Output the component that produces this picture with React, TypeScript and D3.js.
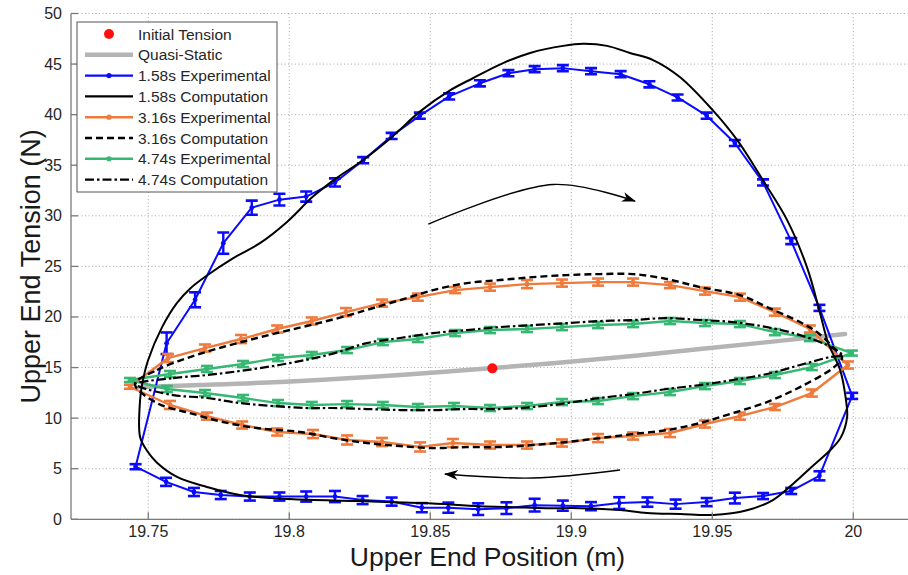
import React from 'react';
import * as d3 from 'd3';

const W = 908;
const H = 575;
const PLOT = { left: 71, right: 908, top: 13.5, bottom: 519.3 };
const xDomain = [19.7226, 20.0194];
const yDomain = [0, 50];

const xTicks = [19.75, 19.8, 19.85, 19.9, 19.95, 20];
const xTickLabels = ['19.75', '19.8', '19.85', '19.9', '19.95', '20'];
const yTicks = [0, 5, 10, 15, 20, 25, 30, 35, 40, 45, 50];

const xTitle = 'Upper End Position (m)';
const yTitle = 'Upper End Tension (N)';

// Quasi-static
const qsX = [19.7471, 19.7683, 19.8038, 19.8393, 19.8722, 19.9102, 19.9457, 19.9971];
const qsY = [13.07, 13.27, 13.67, 14.26, 14.95, 15.84, 16.83, 18.31];

// Initial tension
const initX = [19.872];
const initY = [14.92];

// 1.58s experimental
const exp158X = [19.7455, 19.7565, 19.7666, 19.7766, 19.7867, 19.7965, 19.806, 19.8162, 19.8262, 19.8363,
  19.8463, 19.8567, 19.8676, 19.8777, 19.887, 19.897, 19.907, 19.9175, 19.9277, 19.9377,
  19.948, 19.958, 19.968, 19.978, 19.988, 19.9996,
  19.988, 19.978, 19.968, 19.958, 19.948, 19.937, 19.927, 19.917, 19.907, 19.897,
  19.887, 19.877, 19.867, 19.8564, 19.847, 19.8363, 19.826, 19.8162, 19.806, 19.7965,
  19.786, 19.7757, 19.7662, 19.7563];
const exp158Y = [5.2, 17.4, 21.7, 27.3, 30.8, 31.6, 31.9, 33.3, 35.5, 37.9,
  39.9, 41.8, 43.1, 44.1, 44.5, 44.6, 44.3, 44.0, 43.0, 41.7,
  39.9, 37.2, 33.3, 27.5, 20.9, 12.2,
  4.3, 2.8, 2.3, 2.1, 1.7, 1.5, 1.7, 1.6, 1.3, 1.35,
  1.4, 1.1, 1.0, 1.15, 1.15, 1.75, 1.9, 2.25, 2.25, 2.25,
  2.25, 2.4, 2.7, 3.7];
const exp158E = [0.25, 1.07, 0.74, 1.05, 0.7, 0.58, 0.5, 0.4, 0.3, 0.3,
  0.3, 0.3, 0.3, 0.3, 0.3, 0.3, 0.3, 0.3, 0.3, 0.3,
  0.3, 0.3, 0.3, 0.3, 0.3, 0.3,
  0.45, 0.3, 0.3, 0.53, 0.4, 0.45, 0.46, 0.58, 0.4, 0.5,
  0.63, 0.58, 0.58, 0.5, 0.45, 0.4, 0.4, 0.55, 0.5, 0.4,
  0.4, 0.4, 0.4, 0.4];

// 1.58s computation
const comp158X = [19.7471, 19.7471, 19.7478, 19.7499, 19.7549, 19.7602, 19.7648, 19.7708, 19.78, 19.7896,
  19.7992, 19.8084, 19.8166, 19.8261, 19.8364, 19.8463, 19.857, 19.8651, 19.8758, 19.8854,
  19.8971, 19.9042, 19.9127, 19.9208, 19.929, 19.9386, 19.9503, 19.9588, 19.968, 19.9765,
  19.9836, 19.9882, 19.9911, 19.9953, 19.9974, 19.9978, 19.9956, 19.9917, 19.9857, 19.9786,
  19.9715, 19.9623, 19.9503, 19.9386, 19.9268, 19.9173, 19.9031, 19.8914, 19.8793, 19.8676,
  19.8474, 19.824, 19.8002, 19.7825, 19.7708, 19.7602, 19.7531, 19.7495];
const comp158Y = [8.13, 11.8, 13.3, 15.7, 19.0, 21.4, 22.8, 24.1, 25.8, 27.3,
  29.4, 31.9, 33.7, 35.5, 37.8, 40.3, 42.4, 43.6, 45.1, 46.1,
  46.8, 47.0, 46.8, 46.1, 45.4, 43.7, 40.4, 37.5, 33.5, 29.6,
  24.9, 20.4, 17.4, 14.8, 11.8, 10.1, 8.1, 6.8, 5.3, 3.5,
  1.9, 0.9, 0.43, 0.52, 0.62, 0.92, 1.1, 1.1, 1.2, 1.3,
  1.6, 1.8, 2.0, 2.4, 3.2, 4.2, 5.6, 6.8];

// 3.16s experimental
const exp316X = [19.7435, 19.757, 19.7701, 19.7829, 19.7957, 19.808, 19.8201, 19.8329, 19.8456, 19.8588,
  19.8712, 19.8843, 19.8967, 19.9095, 19.9219, 19.935, 19.9474, 19.9598, 19.9722, 19.9846, 19.9981,
  19.9853, 19.9722, 19.9598, 19.9474, 19.935, 19.9219, 19.9095, 19.8967, 19.8843, 19.8712,
  19.858, 19.8464, 19.8329, 19.8205, 19.8084, 19.7957, 19.7833, 19.7708, 19.7577];
const exp316Y = [13.1, 15.94, 16.93, 17.82, 18.81, 19.6, 20.48, 21.37, 21.96, 22.66,
  22.95, 23.25, 23.35, 23.45, 23.45, 23.15, 22.56, 21.96, 20.48, 18.81, 15.25,
  12.48, 11.1, 10.2, 9.42, 8.53, 8.23, 8.03, 7.54, 7.34, 7.34,
  7.54, 7.15, 7.64, 7.84, 8.43, 8.63, 9.32, 10.2, 11.3];
const exp316E = [0.2, 0.4, 0.35, 0.4, 0.35, 0.35, 0.4, 0.35, 0.35, 0.3,
  0.35, 0.4, 0.35, 0.35, 0.35, 0.3, 0.35, 0.35, 0.35, 0.35, 0.35,
  0.35, 0.3, 0.35, 0.35, 0.4, 0.35, 0.4, 0.35, 0.35, 0.35,
  0.4, 0.45, 0.4, 0.45, 0.4, 0.35, 0.35, 0.35, 0.4];

// 3.16s computation
const comp316X = [19.7453, 19.7531, 19.7648, 19.7765, 19.7885, 19.8002, 19.8119, 19.8215, 19.8275, 19.8393,
  19.851, 19.863, 19.8747, 19.8864, 19.8985, 19.9102, 19.9219, 19.9339, 19.9456, 19.9598,
  19.9694, 19.9811, 19.9871, 19.9928, 19.996,
  19.9928, 19.9811, 19.9694, 19.9573, 19.9456, 19.9339, 19.9219, 19.9102, 19.8985, 19.8864,
  19.8747, 19.863, 19.851, 19.8393, 19.8275, 19.8155, 19.8038, 19.7885, 19.7765, 19.7648, 19.7531];
const comp316Y = [13.37, 14.76, 16.04, 17.03, 17.92, 18.71, 19.5, 20.2, 20.7, 21.67,
  22.66, 23.35, 23.65, 23.94, 24.14, 24.24, 24.24, 23.75, 22.95, 22.16,
  20.98, 19.5, 18.51, 17.03, 15.94,
  14.96, 13.07, 11.59, 10.5, 9.51, 8.82, 8.43, 8.03, 7.64, 7.34,
  7.14, 7.14, 7.04, 7.24, 7.54, 8.03, 8.63, 9.02, 9.62, 10.5, 11.49];

// 4.74s experimental
const exp474X = [19.7435, 19.7577, 19.7708, 19.7836, 19.796, 19.808, 19.8205, 19.8332, 19.8456, 19.8588,
  19.8712, 19.8843, 19.8967, 19.9095, 19.9219, 19.935, 19.9474, 19.9598, 19.9722, 19.9846, 19.9995,
  19.9853, 19.9722, 19.9598, 19.9474, 19.935, 19.9219, 19.9095, 19.8967, 19.8843, 19.8712,
  19.8584, 19.8456, 19.8332, 19.8205, 19.808, 19.796, 19.7836, 19.7701, 19.7566];
const exp474Y = [13.77, 14.36, 14.86, 15.35, 15.94, 16.24, 16.73, 17.52, 17.82, 18.41,
  18.71, 18.81, 19.0, 19.2, 19.3, 19.6, 19.4, 19.3, 18.5, 17.92, 16.43,
  15.05, 14.26, 13.67, 13.17, 12.58, 12.18, 11.69, 11.59, 11.2, 11.0,
  11.2, 11.1, 11.3, 11.39, 11.3, 11.49, 11.99, 12.48, 12.88];
const exp474E = [0.2, 0.3, 0.3, 0.3, 0.3, 0.3, 0.3, 0.3, 0.3, 0.3,
  0.3, 0.3, 0.3, 0.3, 0.3, 0.3, 0.3, 0.3, 0.3, 0.3, 0.25,
  0.3, 0.3, 0.3, 0.3, 0.3, 0.3, 0.3, 0.3, 0.3, 0.3,
  0.3, 0.3, 0.3, 0.3, 0.3, 0.3, 0.3, 0.3, 0.3];

// 4.74s computation
const comp474X = [19.7453, 19.7588, 19.7708, 19.7825, 19.7942, 19.8056, 19.8162, 19.8275, 19.8393, 19.851,
  19.863, 19.8747, 19.8864, 19.8985, 19.9102, 19.9219, 19.9339, 19.9456, 19.9573, 19.9694,
  19.9811, 19.9906, 19.996,
  19.9917, 19.9811, 19.9694, 19.9573, 19.9456, 19.9339, 19.9219, 19.9102, 19.8985, 19.8864,
  19.8747, 19.863, 19.851, 19.8393, 19.8275, 19.8155, 19.8063, 19.7942, 19.7825, 19.7708, 19.7588, 19.7471];
const comp474Y = [13.37, 13.96, 14.26, 14.66, 15.15, 15.74, 16.43, 17.42, 17.92, 18.41,
  18.71, 19.0, 19.2, 19.4, 19.6, 19.7, 19.89, 19.7, 19.5, 19.0,
  18.21, 17.22, 16.24,
  16.04, 15.25, 14.36, 13.77, 13.27, 12.88, 12.38, 11.99, 11.49, 11.1,
  10.9, 10.9, 10.8, 10.8, 10.9, 11.0, 11.0, 11.2, 11.49, 11.99, 12.28, 13.07];

// direction arrows (data coords)
const arrowUpperX = [19.8493, 19.8935, 19.9226];
const arrowUpperY = [29.18, 33.1, 31.45];
const arrowLowerX = [19.9173, 19.8864, 19.8552];
const arrowLowerY = [4.87, 4.08, 4.48];

const legendLabels = ['Initial Tension', 'Quasi-Static', '1.58s Experimental', '1.58s Computation',
  '3.16s Experimental', '3.16s Computation', '4.74s Experimental', '4.74s Computation'];

const BLUE = '#0a0aff';
const ORANGE = '#ef7a3b';
const GREEN = '#36b872';
const GREY = '#b4b4b4';
const RED = '#ff1010';
const FONT = 'Arial, "Liberation Sans", Helvetica, sans-serif';

const zip = (xs: number[], ys: number[]) => xs.map((x, i) => [x, ys[i]] as [number, number]);

export default function App() {
  const x = d3.scaleLinear().domain(xDomain).range([PLOT.left, PLOT.right]);
  const y = d3.scaleLinear().domain(yDomain).range([PLOT.bottom, PLOT.top]);

  const linClosed = d3.line<[number, number]>().x(d => x(d[0])).y(d => y(d[1])).curve(d3.curveLinearClosed);
  const smoothClosed = d3.line<[number, number]>().x(d => x(d[0])).y(d => y(d[1])).curve(d3.curveCatmullRomClosed.alpha(0.5));
  const smoothOpen = d3.line<[number, number]>().x(d => x(d[0])).y(d => y(d[1])).curve(d3.curveCatmullRom.alpha(0.5));

  const expSeries = [
    { xs: exp158X, ys: exp158Y, es: exp158E, color: BLUE, w: 2 },
    { xs: exp316X, ys: exp316Y, es: exp316E, color: ORANGE, w: 2.4 },
    { xs: exp474X, ys: exp474Y, es: exp474E, color: GREEN, w: 2.4 },
  ];

  const errBars = (s: typeof expSeries[number], key: string) => (
    <g key={key} stroke={s.color} fill={s.color}>
      {s.xs.map((xv, i) => {
        const px = x(xv);
        const y1 = y(s.ys[i] - s.es[i]);
        const y2 = y(s.ys[i] + s.es[i]);
        return (
          <g key={i}>
            <line x1={px} x2={px} y1={y1} y2={y2} strokeWidth={2.4} />
            <line x1={px - 6} x2={px + 6} y1={y1} y2={y1} strokeWidth={2.6} />
            <line x1={px - 6} x2={px + 6} y1={y2} y2={y2} strokeWidth={2.6} />
            <circle cx={px} cy={y(s.ys[i])} r={2.4} stroke="none" />
          </g>
        );
      })}
    </g>
  );

  const legendX = 77, legendY = 22, legendW = 200, legendH = 170;
  const rowH = 20.8;
  const sampleX1 = 85, sampleX2 = 133, textX = 138;

  return (
    <svg width={W} height={H} style={{ position: 'absolute', left: 0, top: 0, background: '#fff' }}
      xmlns="http://www.w3.org/2000/svg">
      <defs>
        <clipPath id="plotclip">
          <rect x={PLOT.left} y={PLOT.top - 2} width={PLOT.right - PLOT.left} height={PLOT.bottom - PLOT.top + 2} />
        </clipPath>
        <marker id="arrowhead" viewBox="-14 -7 16 14" markerWidth={16} markerHeight={14}
          refX={0} refY={0} orient="auto" markerUnits="userSpaceOnUse">
          <path d="M1,0 L-13,-5 L-9,0 L-13,5 Z" fill="#000" />
        </marker>
      </defs>
      <rect x={0} y={0} width={W} height={H} fill="#fff" />

      {/* grid */}
      <g stroke="#a8a8a8" strokeWidth={1} strokeDasharray="1,2.5">
        {xTicks.map(t => (
          <line key={'gx' + t} x1={x(t)} x2={x(t)} y1={PLOT.top} y2={PLOT.bottom} />
        ))}
        {yTicks.map(t => (
          <line key={'gy' + t} x1={PLOT.left} x2={PLOT.right} y1={y(t)} y2={y(t)} />
        ))}
      </g>

      <g clipPath="url(#plotclip)">
        {/* quasi-static */}
        <path d={smoothOpen(zip(qsX, qsY)) || ''} fill="none" stroke={GREY} strokeWidth={4.5} strokeLinecap="round" />

        {/* experimental lines */}
        {expSeries.map((s, i) => (
          <path key={'el' + i} d={linClosed(zip(s.xs, s.ys)) || ''} fill="none" stroke={s.color} strokeWidth={s.w} strokeLinejoin="round" />
        ))}
        {expSeries.map((s, i) => errBars(s, 'eb' + i))}

        {/* computations */}
        <path d={smoothClosed(zip(comp158X, comp158Y)) || ''} fill="none" stroke="#000" strokeWidth={2} strokeLinejoin="round" />
        <path d={smoothClosed(zip(comp316X, comp316Y)) || ''} fill="none" stroke="#000" strokeWidth={2.4} strokeDasharray="7,4" />
        <path d={smoothClosed(zip(comp474X, comp474Y)) || ''} fill="none" stroke="#000" strokeWidth={2.2} strokeDasharray="9,3,2.5,3" />

        {/* initial tension */}
        {initX.map((xv, i) => (
          <circle key={'it' + i} cx={x(xv)} cy={y(initY[i])} r={5} fill={RED} />
        ))}

        {/* arrows */}
        <path d={smoothOpen(zip(arrowUpperX, arrowUpperY)) || ''} fill="none" stroke="#000" strokeWidth={1.4} markerEnd="url(#arrowhead)" />
        <path d={smoothOpen(zip(arrowLowerX, arrowLowerY)) || ''} fill="none" stroke="#000" strokeWidth={1.4} markerEnd="url(#arrowhead)" />
      </g>

      {/* axes */}
      <g stroke="#7a7a7a" strokeWidth={1.3}>
        <line x1={PLOT.left} x2={PLOT.left} y1={PLOT.top} y2={PLOT.bottom} />
        <line x1={PLOT.left} x2={PLOT.right} y1={PLOT.bottom} y2={PLOT.bottom} />
        {xTicks.map(t => (
          <line key={'tx' + t} x1={x(t)} x2={x(t)} y1={PLOT.bottom} y2={PLOT.bottom - 7} />
        ))}
        {yTicks.map(t => (
          <line key={'ty' + t} x1={PLOT.left} x2={PLOT.left + 7} y1={y(t)} y2={y(t)} />
        ))}
      </g>
      <g fontFamily={FONT} fontSize={16} fill="#262626">
        {xTicks.map((t, i) => (
          <text key={'lx' + t} x={x(t)} y={PLOT.bottom + 18} textAnchor="middle">{xTickLabels[i]}</text>
        ))}
        {yTicks.map(t => (
          <text key={'ly' + t} x={PLOT.left - 9} y={y(t) + 5.5} textAnchor="end">{t}</text>
        ))}
      </g>
      <text x={(PLOT.left + PLOT.right) / 2 - 2} y={565.5} textAnchor="middle" fontFamily={FONT} fontSize={26.5} fill="#1a1a1a">{xTitle}</text>
      <text transform={`translate(40, ${(PLOT.top + PLOT.bottom) / 2}) rotate(-90)`} textAnchor="middle" fontFamily={FONT} fontSize={27} fill="#1a1a1a">{yTitle}</text>

      {/* legend */}
      <g>
        <rect x={legendX} y={legendY} width={legendW} height={legendH} fill="#fff" stroke="#555" strokeWidth={1} />
        {legendLabels.map((lab, i) => {
          const cy = legendY + 12 + i * rowH;
          let sample: React.ReactNode = null;
          const mid = (sampleX1 + sampleX2) / 2;
          if (i === 0) sample = <circle cx={mid} cy={cy} r={5} fill={RED} />;
          else if (i === 1) sample = <line x1={sampleX1} x2={sampleX2} y1={cy} y2={cy} stroke={GREY} strokeWidth={4.5} />;
          else if (i === 2 || i === 4 || i === 6) {
            const c = i === 2 ? BLUE : i === 4 ? ORANGE : GREEN;
            sample = (
              <g>
                <line x1={sampleX1} x2={sampleX2} y1={cy} y2={cy} stroke={c} strokeWidth={2.4} />
                <circle cx={mid} cy={cy} r={2.6} fill={c} />
              </g>
            );
          } else if (i === 3) sample = <line x1={sampleX1} x2={sampleX2} y1={cy} y2={cy} stroke="#000" strokeWidth={2.2} />;
          else if (i === 5) sample = <line x1={sampleX1} x2={sampleX2} y1={cy} y2={cy} stroke="#000" strokeWidth={2.4} strokeDasharray="7,4" />;
          else sample = <line x1={sampleX1} x2={sampleX2} y1={cy} y2={cy} stroke="#000" strokeWidth={2.2} strokeDasharray="9,3,2.5,3" />;
          return (
            <g key={lab}>
              {sample}
              <text x={textX} y={cy + 5.5} fontFamily={FONT} fontSize={15.5} fill="#262626">{lab}</text>
            </g>
          );
        })}
      </g>
    </svg>
  );
}
